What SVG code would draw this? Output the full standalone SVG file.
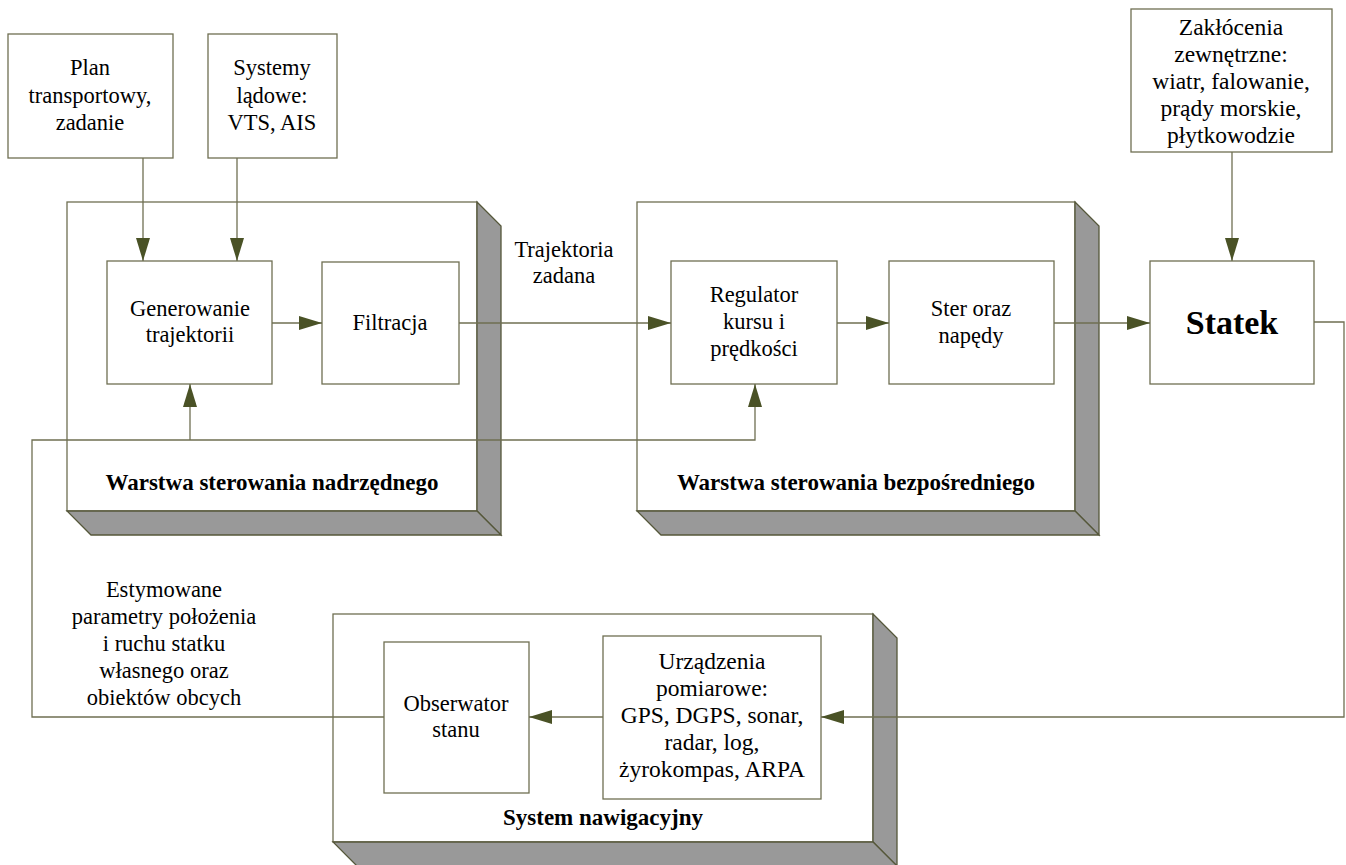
<svg xmlns="http://www.w3.org/2000/svg" width="1346" height="865" viewBox="0 0 1346 865">
<style>
.box{fill:#ffffff;stroke:#6f6f52;stroke-width:1.3}
.side{fill:#999999;stroke:#55573a;stroke-width:1.3}
.ln{fill:none;stroke:#6f6f52;stroke-width:1.3}
.t{font-family:"Liberation Serif","Times New Roman",serif;font-size:22.5px;fill:#000;text-anchor:middle}
.tl{font-family:"Liberation Serif","Times New Roman",serif;font-size:23.5px;fill:#000;text-anchor:middle}
.b{font-family:"Liberation Serif","Times New Roman",serif;font-size:23px;font-weight:bold;fill:#000;text-anchor:middle}
.big{font-family:"Liberation Serif","Times New Roman",serif;font-size:34px;font-weight:bold;fill:#000;text-anchor:middle}
</style>
<defs>
<marker id="ah" viewBox="0 0 23 14" refX="23" refY="7" markerWidth="23" markerHeight="14" markerUnits="userSpaceOnUse" orient="auto">
<path d="M0,0 L23,7 L0,14 Z" fill="#4a5226"/>
</marker>
</defs>
<rect width="1346" height="865" fill="#ffffff"/>

<g id="layer-upper">
<rect class="box" x="67" y="202" width="410" height="309"/>
<polygon class="side" points="477,202 501,226 501,535 477,511"/>
<polygon class="side" points="67,511 477,511 501,535 91,535"/>
<text class="b" x="272" y="490">Warstwa sterowania nadrzędnego</text>
</g>
<g id="layer-direct">
<rect class="box" x="637" y="202" width="438" height="309"/>
<polygon class="side" points="1075,202 1099,226 1099,535 1075,511"/>
<polygon class="side" points="637,511 1075,511 1099,535 661,535"/>
<text class="b" x="856" y="490">Warstwa sterowania bezpośredniego</text>
</g>
<g id="layer-nav">
<rect class="box" x="333" y="614" width="540" height="228"/>
<polygon class="side" points="873,614 897,638 897,866 873,842"/>
<polygon class="side" points="333,842 873,842 897,866 357,866"/>
<text class="b" x="603" y="825">System nawigacyjny</text>
</g>

<g id="plan">
<rect class="box" x="8" y="34" width="165" height="124"/>
<text class="t" x="90" y="75">Plan</text>
<text class="t" x="90" y="103">transportowy,</text>
<text class="t" x="90" y="130">zadanie</text>
</g>
<g id="systemy">
<rect class="box" x="208" y="34" width="129" height="124"/>
<text class="t" x="272" y="75">Systemy</text>
<text class="t" x="272" y="103">lądowe:</text>
<text class="t" x="272" y="130">VTS, AIS</text>
</g>
<g id="zaklocenia">
<rect class="box" x="1131" y="9" width="201" height="143"/>
<text class="tl" x="1231" y="35">Zakłócenia</text>
<text class="tl" x="1231" y="62">zewnętrzne:</text>
<text class="tl" x="1231" y="89">wiatr, falowanie,</text>
<text class="tl" x="1231" y="116">prądy morskie,</text>
<text class="tl" x="1231" y="143">płytkowodzie</text>
</g>
<g id="generowanie">
<rect class="box" x="107" y="261" width="165" height="123"/>
<text class="t" x="190" y="316">Generowanie</text>
<text class="t" x="190" y="342">trajektorii</text>
</g>
<g id="filtracja">
<rect class="box" x="322" y="262" width="137" height="122"/>
<text class="t" x="390" y="330">Filtracja</text>
</g>
<g id="regulator">
<rect class="box" x="671" y="261" width="166" height="123"/>
<text class="t" x="754" y="302">Regulator</text>
<text class="t" x="754" y="329">kursu i</text>
<text class="t" x="754" y="356">prędkości</text>
</g>
<g id="ster">
<rect class="box" x="889" y="261" width="165" height="123"/>
<text class="t" x="971" y="316">Ster oraz</text>
<text class="t" x="971" y="343">napędy</text>
</g>
<g id="statek">
<rect class="box" x="1150" y="261" width="164" height="123"/>
<text class="big" x="1232" y="334">Statek</text>
</g>
<g id="obserwator">
<rect class="box" x="384" y="642" width="145" height="151"/>
<text class="t" x="456" y="711">Obserwator</text>
<text class="t" x="456" y="737">stanu</text>
</g>
<g id="urzadzenia">
<rect class="box" x="603" y="636" width="218" height="163"/>
<text class="tl" x="712" y="669">Urządzenia</text>
<text class="tl" x="712" y="696">pomiarowe:</text>
<text class="tl" x="712" y="723">GPS, DGPS, sonar,</text>
<text class="tl" x="712" y="750">radar, log,</text>
<text class="tl" x="712" y="777">żyrokompas, ARPA</text>
</g>

<g id="connectors">
<path class="ln" d="M143,158 V261" marker-end="url(#ah)"/>
<path class="ln" d="M237,158 V261" marker-end="url(#ah)"/>
<path class="ln" d="M1232,152 V261" marker-end="url(#ah)"/>
<path class="ln" d="M272,323 H322" marker-end="url(#ah)"/>
<path class="ln" d="M459,323 H671" marker-end="url(#ah)"/>
<path class="ln" d="M837,323 H889" marker-end="url(#ah)"/>
<path class="ln" d="M1054,323 H1150" marker-end="url(#ah)"/>
<path class="ln" d="M1314,322 H1344 V717 H821" marker-end="url(#ah)"/>
<path class="ln" d="M603,717 H529" marker-end="url(#ah)"/>
<path class="ln" d="M384,717 H32 V440 H755 V384" marker-end="url(#ah)"/>
<path class="ln" d="M190,440 V384" marker-end="url(#ah)"/>
</g>
<g id="labels">
<text class="t" x="564" y="257">Trajektoria</text>
<text class="t" x="564" y="283">zadana</text>
<text class="t" x="164" y="597">Estymowane</text>
<text class="t" x="164" y="624">parametry położenia</text>
<text class="t" x="164" y="651">i ruchu statku</text>
<text class="t" x="164" y="678">własnego oraz</text>
<text class="t" x="164" y="705">obiektów obcych</text>
</g>
</svg>
